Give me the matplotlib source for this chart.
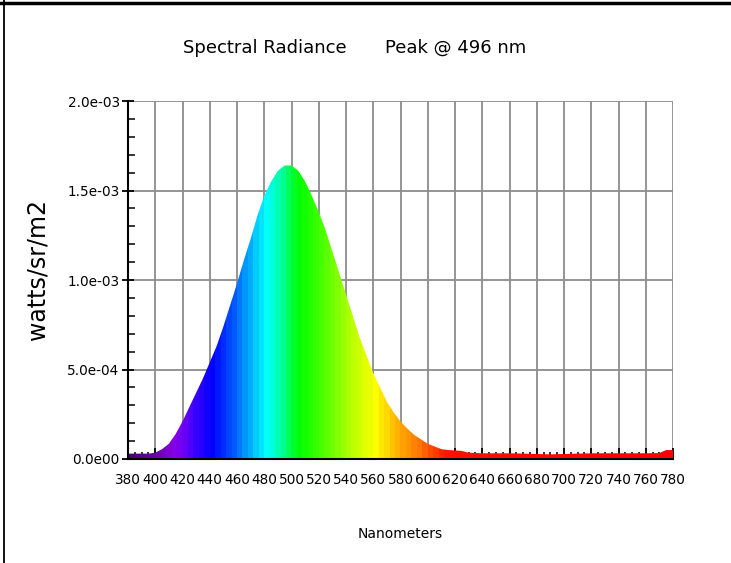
import numpy as np
import matplotlib.pyplot as plt
from matplotlib.colors import LinearSegmentedColormap
from matplotlib.ticker import MultipleLocator, FuncFormatter

# wavelength (nm) and spectral radiance (watts/sr/m2)
wavelength = [380, 385, 390, 395, 400, 405, 410, 415, 420, 425, 430, 435, 440, 445,
              450, 455, 460, 465, 470, 475, 480, 485, 490, 495, 500, 505, 510, 515,
              520, 525, 530, 535, 540, 545, 550, 555, 560, 565, 570, 575, 580, 585,
              590, 595, 600, 605, 610, 615, 620, 625, 630, 640, 650, 660, 670, 680,
              690, 700, 710, 720, 730, 740, 750, 760, 770, 775, 780]
radiance_e3 = [0.03, 0.03, 0.03, 0.03, 0.035, 0.055, 0.085, 0.14, 0.21, 0.29, 0.37,
               0.45, 0.54, 0.63, 0.74, 0.86, 0.98, 1.11, 1.23, 1.36, 1.47, 1.55, 1.61,
               1.64, 1.64, 1.61, 1.55, 1.47, 1.38, 1.28, 1.16, 1.04, 0.92, 0.80, 0.68,
               0.58, 0.48, 0.40, 0.32, 0.26, 0.21, 0.17, 0.135, 0.11, 0.085, 0.07,
               0.055, 0.05, 0.048, 0.045, 0.035, 0.032, 0.032, 0.032, 0.03, 0.028,
               0.026, 0.028, 0.03, 0.032, 0.032, 0.032, 0.032, 0.032, 0.033, 0.05, 0.05]
radiance = np.array(radiance_e3) * 1e-3

title_left = 'Spectral Radiance'
title_right = 'Peak @ 496 nm'

# colour stops for the spectrum fill
spec_stops = [(380, '#4a0070'), (400, '#6a00a8'), (415, '#8a00f0'), (428, '#4000ff'),
              (442, '#0000ff'), (458, '#0060ff'), (470, '#00b0ff'), (481, '#00ffff'),
              (490, '#00ffb0'), (506, '#00ff00'), (530, '#70ff00'), (548, '#c8ff00'),
              (562, '#ffff00'), (578, '#ffb000'), (595, '#ff7000'), (615, '#ff1000'),
              (780, '#ff0000')]

narrow = ['DejaVu Sans Condensed', 'DejaVu Sans']

fig = plt.figure(figsize=(7.31, 5.63), dpi=100)
ax = fig.add_axes([128 / 731, 104 / 563, 545 / 731, 358 / 563])

# spectrum-coloured fill, clipped to the area under the curve
lo, hi = spec_stops[0][0], spec_stops[-1][0]
cmap = LinearSegmentedColormap.from_list(
    'spec', [((w - lo) / (hi - lo), c) for w, c in spec_stops])
bands = np.arange(380, 780, 4) + 2
img = ax.imshow(((bands - lo) / (hi - lo))[None, :], cmap=cmap, vmin=0, vmax=1,
                aspect='auto', extent=(380, 780, 0, 2e-3), origin='lower',
                interpolation='nearest', zorder=2)
poly = ax.fill_between(wavelength, 0, radiance, color='none', lw=0, zorder=1)
img.set_clip_path(poly.get_paths()[0], transform=ax.transData)

ax.set_xlim(380, 780)
ax.set_ylim(0, 2e-3)
ax.xaxis.set_major_locator(MultipleLocator(20))
ax.xaxis.set_minor_locator(MultipleLocator(5))
ax.yaxis.set_major_locator(MultipleLocator(5e-4))
ax.yaxis.set_minor_locator(MultipleLocator(1e-4))
ax.yaxis.set_major_formatter(FuncFormatter(
    lambda v, p: '0.0e00' if v == 0 else '%.1e' % v))

ax.grid(True, which='major', color='#8c8c8c', lw=1.3, zorder=0)
ax.set_axisbelow(True)
for s in ['top', 'right']:
    ax.spines[s].set_visible(False)
for s in ['left', 'bottom']:
    ax.spines[s].set_linewidth(1.5)
    ax.spines[s].set_zorder(5)

ax.tick_params(axis='x', which='major', direction='in', length=8, width=1.3, pad=10)
ax.tick_params(axis='x', which='minor', direction='in', length=5, width=1.1)
ax.tick_params(axis='y', which='major', direction='inout', length=8, width=1.3, pad=2)
ax.tick_params(axis='y', which='minor', direction='in', length=5, width=1.1)
for lab in ax.get_xticklabels() + ax.get_yticklabels():
    lab.set_family(narrow)
    lab.set_fontsize(9.8)

ax.set_xlabel('Nanometers', family=narrow, fontsize=10, labelpad=29)
fig.text(38 / 731, 1 - 270 / 563, 'watts/sr/m2', rotation=90, fontsize=17,
         family='DejaVu Sans', ha='center', va='center')

fig.text(265 / 731, 1 - 48 / 563, title_left, family=narrow, fontsize=13,
         ha='center', va='center')
fig.text(456 / 731, 1 - 48 / 563, title_right, family=narrow, fontsize=13,
         ha='center', va='center')

# frame around the picture (top and left only)
fig.add_artist(plt.Line2D([0, 1], [1 - 3 / 563] * 2, color='black', lw=2.5,
                          transform=fig.transFigure))
fig.add_artist(plt.Line2D([4 / 731] * 2, [0, 1], color='black', lw=1.3,
                          transform=fig.transFigure))

fig.savefig('out.png', dpi=100)
